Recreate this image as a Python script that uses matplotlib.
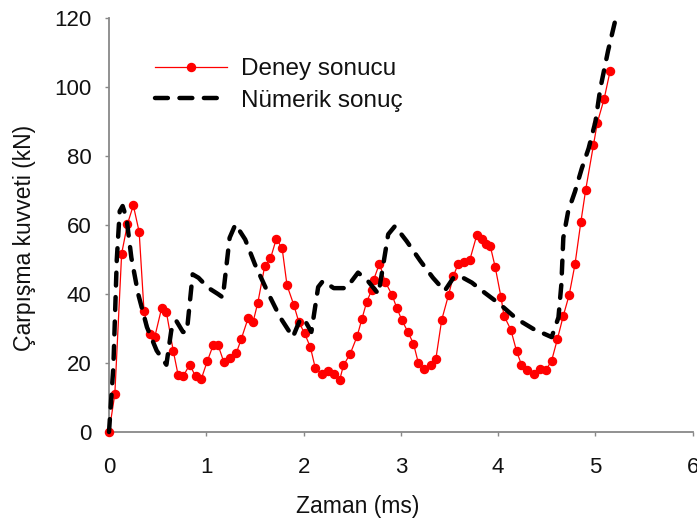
import matplotlib
matplotlib.use("Agg")
import matplotlib.pyplot as plt

plt.rcParams['font.family'] = ['Liberation Sans', 'DejaVu Sans']

# Experimental result (Deney sonucu)
deney_t = [0, 0.06, 0.13, 0.19, 0.25, 0.31, 0.36, 0.42, 0.47, 0.54, 0.59, 0.66, 0.71, 0.76,
           0.83, 0.89, 0.95, 1.01, 1.07, 1.12, 1.18, 1.24, 1.31, 1.36, 1.43, 1.48, 1.53, 1.60,
           1.66, 1.72, 1.78, 1.83, 1.90, 1.95, 2.01, 2.07, 2.12, 2.19, 2.25, 2.31, 2.37, 2.41,
           2.48, 2.55, 2.60, 2.65, 2.70, 2.72, 2.78, 2.84, 2.91, 2.96, 3.01, 3.07, 3.13, 3.18,
           3.24, 3.31, 3.36, 3.42, 3.49, 3.54, 3.59, 3.65, 3.71, 3.78, 3.83, 3.88, 3.92, 3.97,
           4.03, 4.06, 4.13, 4.19, 4.24, 4.30, 4.37, 4.43, 4.49, 4.55, 4.61, 4.67, 4.73, 4.79,
           4.85, 4.90, 4.98, 5.02, 5.09, 5.15]
deney_f = [0, 11, 51.7, 60.3, 65.7, 58, 35, 28.4, 27.5, 35.8, 34.7, 23.6, 16.6, 16.1,
           19.5, 16.1, 15.5, 20.5, 25.1, 25.3, 20.3, 21.5, 23, 27, 33, 31.8, 37.5, 48,
           50.3, 56, 53.2, 42.5, 36.8, 32, 28.6, 24.6, 18.6, 16.7, 17.7, 16.9, 15, 19.3,
           22.7, 27.7, 32.8, 37.8, 41.1, 44.1, 48.8, 43.5, 39.7, 35.8, 32.5, 29.1, 25.6, 20,
           18.4, 19.5, 21.2, 32.5, 39.7, 45.2, 48.8, 49.3, 50, 57, 55.8, 54.5, 53.8, 47.8,
           39, 33.7, 29.7, 23.4, 19.5, 18.1, 16.9, 18.2, 17.9, 20.7, 27, 33.7, 39.7, 48.6,
           60.8, 70.2, 83.2, 89.7, 96.6, 104.5]

# Numerical result (Nümerik sonuç)
numerik_t = [0, 0.045, 0.08, 0.11, 0.14, 0.18, 0.23, 0.30, 0.39, 0.49, 0.59, 0.64, 0.69,
             0.76, 0.80, 0.86, 0.92, 1.02, 1.12, 1.17, 1.24, 1.30, 1.40, 1.50, 1.64, 1.76,
             1.89, 1.96, 2.00, 2.08, 2.15, 2.20, 2.31, 2.44, 2.56, 2.66, 2.77, 2.87, 2.94,
             3.06, 3.20, 3.33, 3.45, 3.54, 3.62, 3.73, 3.86, 4.02, 4.19, 4.36, 4.55, 4.62,
             4.65, 4.67, 4.72, 4.79, 4.86, 4.93, 5.00, 5.05, 5.13, 5.21]
numerik_f = [0, 19, 50, 64, 65.5, 62, 50.5, 40, 30.4, 23.6, 19.5, 29.4, 32.3,
             29, 29, 45.7, 44.7, 41.8, 40, 39, 56.3, 60.2, 55.8, 48.6, 40, 33.2,
             27.5, 32.3, 33, 29, 42, 43.8, 41.7, 41.7, 46.2, 43.8, 40, 57.3, 59.7,
             55.3, 49.6, 44.7, 40.9, 44.7, 45, 43.3, 40.4, 37, 32.8, 29.9, 27.5, 33.2,
             42.8, 56.3, 64, 69.7, 76.4, 82.2, 89.9, 99.5, 110.5, 120]

x_ticks = [0, 1, 2, 3, 4, 5, 6]
y_ticks = [0, 20, 40, 60, 80, 100, 120]

fig = plt.figure(figsize=(6.97, 5.24), dpi=100)
ax = fig.add_axes([109 / 697, 1 - 432 / 524, 583.7 / 697, 414 / 524])

ax.plot(deney_t, deney_f, color='#ff0000', lw=0.9, marker='o', markersize=5.8,
        markerfacecolor='#ff0000', markeredgecolor='#ff0000', label='Deney sonucu',
        clip_on=False, zorder=3)
ax.plot(numerik_t, numerik_f, color='black', lw=3.2, linestyle=(0, (2.9, 2.6)),
        dash_capstyle='round', label='Nümerik sonuç', clip_on=False, zorder=4)

ax.set_xlim(0, 6)
ax.set_ylim(0, 120)
ax.set_xticks(x_ticks)
ax.set_yticks(y_ticks)

for side in ['top', 'right']:
    ax.spines[side].set_visible(False)
for side in ['left', 'bottom']:
    ax.spines[side].set_color('#888888')
    ax.spines[side].set_linewidth(1.3)

ax.tick_params(axis='both', direction='out', length=3, width=1, color='#888888',
               labelsize=16, labelcolor='#111111')
ax.tick_params(axis='y', pad=9.5)
ax.tick_params(axis='x', pad=15)

ax.set_xlabel('Zaman (ms)', fontsize=16.5, color='#111111')
ax.set_ylabel('Çarpışma kuvveti (kN)', fontsize=16.5, color='#111111')
ax.xaxis.label.set_va('center')
ax.yaxis.label.set_va('center')
ax.xaxis.set_label_coords((357.5 - 109) / 583.7, (432 - 507) / 414)
ax.yaxis.set_label_coords((25 - 109) / 583.7, (432 - 238) / 414)

leg = ax.legend(loc='upper left', bbox_to_anchor=(155 / 697, 1 - 58 / 524),
                bbox_transform=fig.transFigure, frameon=False, fontsize=17.5,
                handlelength=2.95, handletextpad=0.6, labelspacing=0.4,
                borderpad=0, borderaxespad=0)
for t in leg.get_texts():
    t.set_color('#111111')

fig.savefig('out.png', dpi=100)
